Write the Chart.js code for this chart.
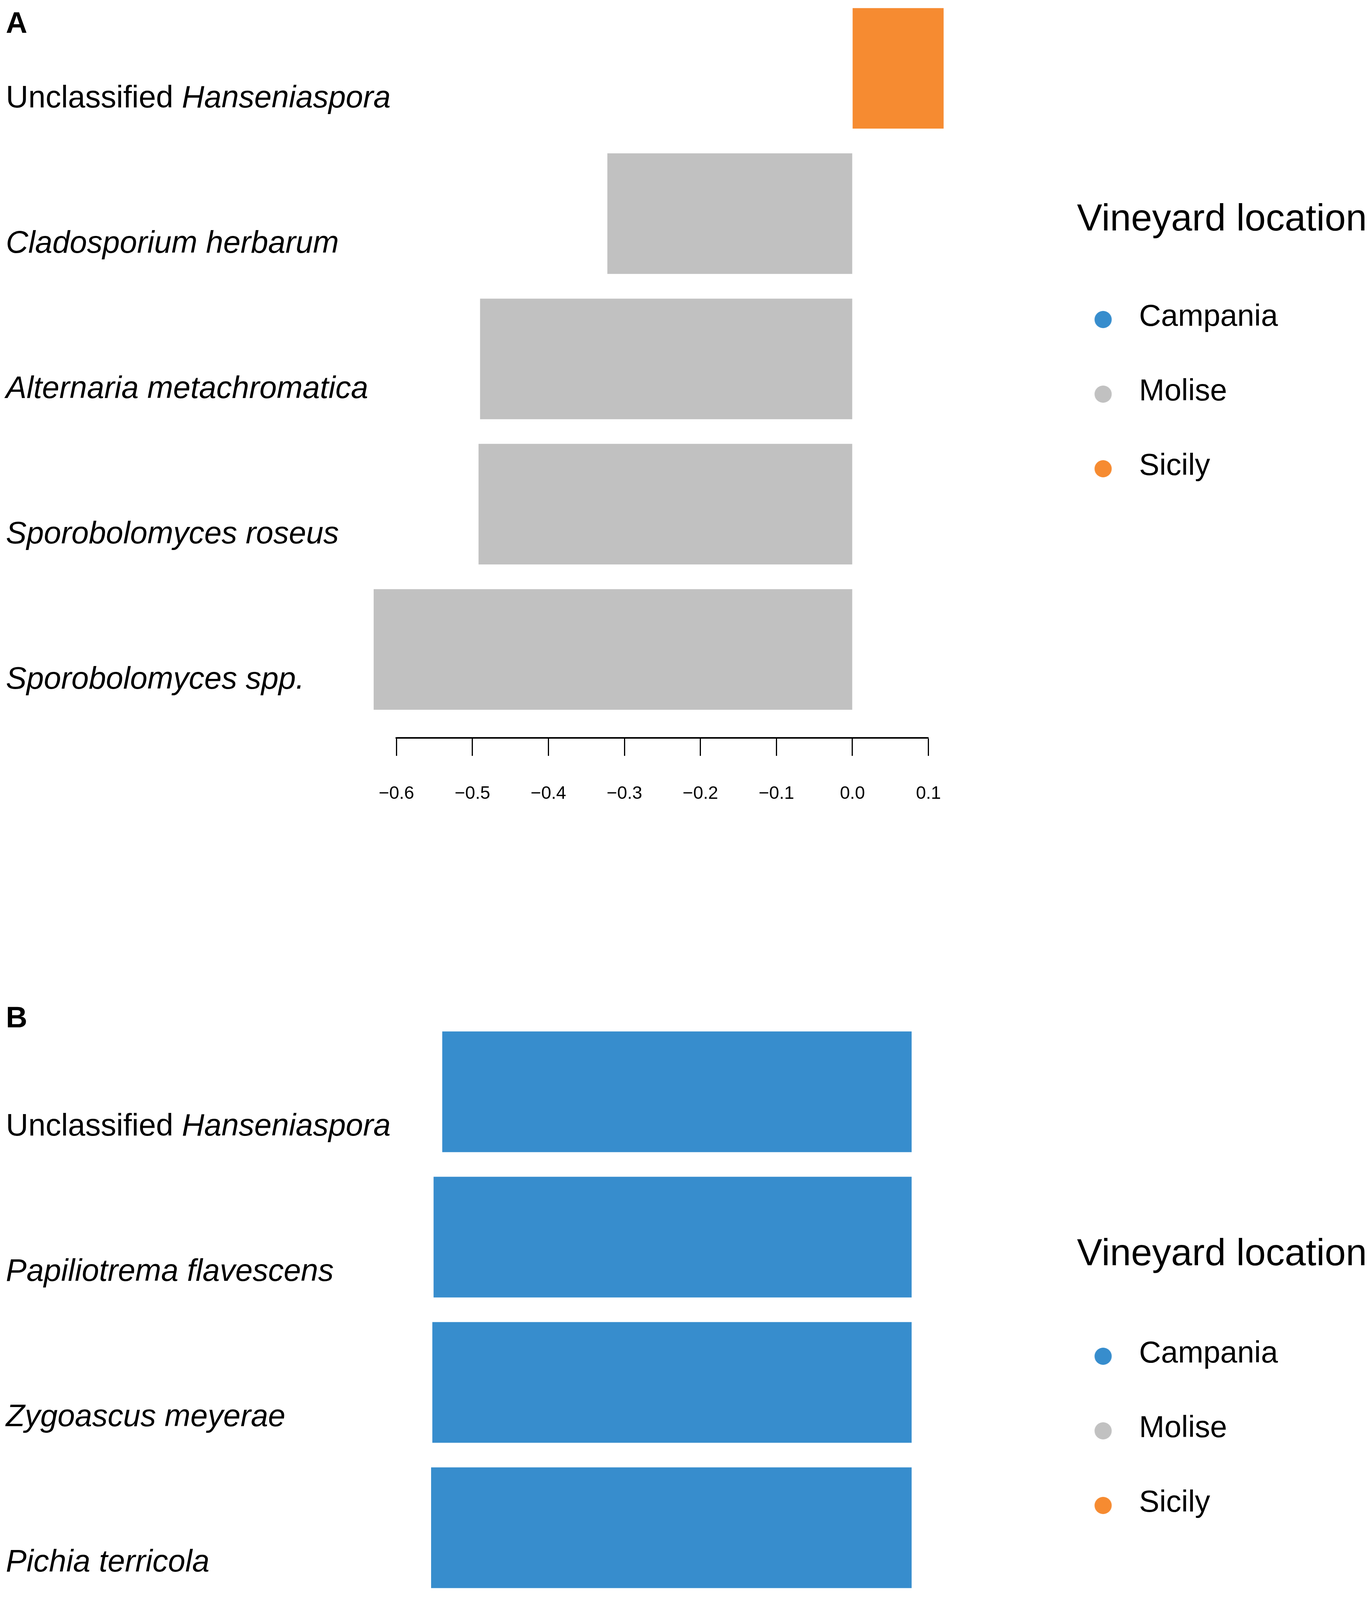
<!DOCTYPE html>
<html>
<head>
<meta charset="utf-8">
<script src="https://cdn.jsdelivr.net/npm/chart.js@4.4.1/dist/chart.umd.min.js"></script>
<style>
html, body { margin: 0; padding: 0; background: #ffffff; }
body { width: 3511px; height: 4689px; position: relative; overflow: hidden; }
canvas { position: absolute; left: 0; }
#chartA { top: 0; }
#chartB { top: 2560px; }
</style>
</head>
<body>
<canvas id="chartA" width="3511" height="2300"></canvas>
<canvas id="chartB" width="3511" height="2129"></canvas>
<script>
// ---------------- data ----------------
const locations = ['Campania', 'Molise', 'Sicily'];

const categoriesA = ['Unclassified Hanseniaspora', 'Cladosporium herbarum', 'Alternaria metachromatica', 'Sporobolomyces roseus', 'Sporobolomyces spp.'];
const campaniaA = [null, null, null, null, null];
const moliseA   = [null, -0.3225, -0.490, -0.492, -0.630];
const sicilyA   = [0.120, null, null, null, null];
const ticksA = [-0.6, -0.5, -0.4, -0.3, -0.2, -0.1, 0.0, 0.1];
const tickLabelsA = ['\u22120.6', '\u22120.5', '\u22120.4', '\u22120.3', '\u22120.2', '\u22120.1', '0.0', '0.1'];

const categoriesB = ['Unclassified Hanseniaspora', 'Papiliotrema flavescens', 'Zygoascus meyerae', 'Pichia terricola', 'Phaeosphaeriaceae'];
const campaniaB = [-0.2275, -0.2317, -0.2323, -0.2329, -0.2734];
const moliseB   = [null, null, null, null, null];
const sicilyB   = [null, null, null, null, null];
const ticksB = [-0.25, -0.20, -0.15, -0.10, -0.05, 0.00];
const tickLabelsB = ['\u22120.25', '\u22120.20', '\u22120.15', '\u22120.10', '\u22120.05', '0.00'];

// ---------------- style ----------------
const FAMILY = "'Liberation Sans', Arial, Helvetica, sans-serif";
const colors = ['#378DCD', '#C1C1C1', '#F68B31'];
const LEGEND_FONT = 78, LEGEND_PAD = 113, LEGEND_BOX = 7, LEGEND_LEFT = 2758;

function splitLabel(label) {
  const prefix = 'Unclassified ';
  if (label.indexOf(prefix) === 0) return [[prefix, 'normal'], [label.slice(prefix.length), 'italic']];
  return [[label, 'italic']];
}

function dotImage(color) {
  const c = document.createElement('canvas');
  c.width = 200; c.height = 64;
  const g = c.getContext('2d');
  g.fillStyle = color;
  g.beginPath();
  g.arc(100 - 49.5, 38, 22, 0, Math.PI * 2);
  g.fill();
  return c;
}
const dots = colors.map(dotImage);

// legend width -> right padding so the legend starts at LEGEND_LEFT
const mctx = document.createElement('canvas').getContext('2d');
mctx.font = 'normal ' + LEGEND_FONT + 'px ' + FAMILY;
const maxText = Math.max(...locations.map(t => mctx.measureText(t).width));
const legendW = LEGEND_PAD + LEGEND_BOX + LEGEND_FONT / 2 + maxText + 10;
const padRight = 3511 - LEGEND_LEFT - legendW;

// let the legend title run past the (narrow) legend box instead of being clipped
const widenLegend = {
  id: 'widenLegend',
  afterLayout(chart) {
    const lg = chart.legend;
    if (lg) { lg.right = chart.width; lg.width = lg.right - lg.left; }
  }
};

function buildChart(id, p) {
  const canvas = document.getElementById(id);
  const H = canvas.height;
  const series = [p.campania, p.molise, p.sicily];
  const datasets = locations.map((name, k) => ({
    label: name,
    data: series[k].map((v, i) => (v === null ? null : { x: v, y: i })).filter(d => d),
    backgroundColor: colors[k],
    borderWidth: 0,
    grouped: false,
    categoryPercentage: 1,
    barPercentage: 0.83,
    clip: false,
    xAxisID: 'x',
    yAxisID: 'y'
  }));

  const rowLabels = {
    id: 'rowLabels',
    afterDraw(chart) {
      const ctx = chart.ctx, ys = chart.scales.y;
      ctx.save();
      ctx.fillStyle = '#000';
      ctx.textAlign = 'left';
      ctx.textBaseline = 'middle';
      p.categories.forEach((lab, i) => {
        let x = 15;
        const y = ys.getPixelForValue(i) + p.labelNudge;
        splitLabel(lab).forEach(([txt, style]) => {
          ctx.font = style + ' normal 79.5px ' + FAMILY;
          ctx.fillText(txt, x, y);
          x += ctx.measureText(txt).width;
        });
      });
      ctx.font = 'normal bold 76px ' + FAMILY;
      ctx.textBaseline = 'alphabetic';
      ctx.fillText(p.letter, 15, p.letterBaseline);
      ctx.restore();
    }
  };

  return new Chart(canvas, {
    type: 'bar',
    data: { datasets },
    options: {
      indexAxis: 'y',
      responsive: false,
      animation: false,
      devicePixelRatio: 1,
      layout: { padding: { left: 0, top: 0, bottom: 0, right: padRight } },
      scales: {
        x: {
          type: 'linear',
          position: 'bottom',
          min: p.ticks[0],
          max: p.ticks[p.ticks.length - 1],
          afterBuildTicks: s => { s.ticks = p.ticks.map(v => ({ value: v })); },
          afterFit: s => { s.height = H - p.axisTop; },
          ticks: {
            callback: (v, i) => p.tickLabels[i],
            font: { family: FAMILY, size: 46 },
            color: '#000',
            padding: 70,
            autoSkip: false,
            maxRotation: 0,
            minRotation: 0
          },
          grid: { display: true, drawOnChartArea: false, drawTicks: true, tickLength: 46, tickWidth: 3, tickColor: '#000' },
          border: { display: true, width: 4, color: '#000' }
        },
        y: {
          type: 'linear',
          position: 'left',
          reverse: true,
          offset: false,
          min: p.yMin,
          max: p.yMax,
          afterBuildTicks: s => { s.ticks = p.categories.map((c, i) => ({ value: i })); },
          afterFit: s => { s.width = p.leftWidth; },
          ticks: { display: false },
          grid: { display: false },
          border: { display: false }
        },
        gap: {
          type: 'linear',
          axis: 'y',
          position: 'right',
          offset: false,
          afterFit: s => { s.width = p.gapWidth; },
          ticks: { display: false },
          grid: { display: false },
          border: { display: false }
        }
      },
      plugins: {
        tooltip: { enabled: false },
        legend: {
          position: 'right',
          align: 'start',
          labels: {
            usePointStyle: true,
            boxWidth: LEGEND_BOX,
            padding: LEGEND_PAD,
            color: '#000',
            font: { family: FAMILY, size: LEGEND_FONT },
            generateLabels(chart) {
              const items = Chart.defaults.plugins.legend.labels.generateLabels(chart);
              items.forEach(it => { it.pointStyle = dots[it.datasetIndex]; it.lineWidth = 0; });
              return items;
            }
          },
          title: {
            display: true,
            text: 'Vineyard location',
            position: 'start',
            color: '#000',
            font: { family: FAMILY, size: 97 },
            padding: { top: p.titleTop, bottom: p.titleBottom }
          }
        }
      }
    },
    plugins: [rowLabels, widenLegend]
  });
}

buildChart('chartA', {
  categories: categoriesA, campania: campaniaA, molise: moliseA, sicily: sicilyA,
  ticks: ticksA, tickLabels: tickLabelsA,
  yMin: -0.4706, yMax: 4.6088, axisTop: 1889,
  leftWidth: 1015.3, gapWidth: 380.4,
  titleTop: 514.5, titleBottom: 29.1,
  labelNudge: 78, letter: 'A', letterBaseline: 84
});

buildChart('chartB', {
  categories: categoriesB, campania: campaniaB, molise: moliseB, sicily: sicilyB,
  ticks: ticksB, tickLabels: tickLabelsB,
  yMin: -0.6317, yMax: 4.6102, axisTop: 1950,
  leftWidth: 1013.6, gapWidth: 422.9,
  titleTop: 603.5, titleBottom: 34.1,
  labelNudge: 90, letter: 'B', letterBaseline: 70
});
</script>
</body>
</html>
